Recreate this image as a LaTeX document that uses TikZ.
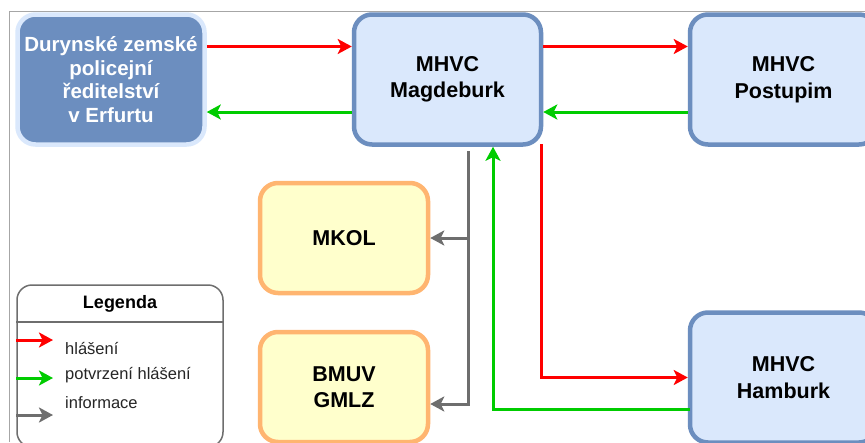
\documentclass[tikz,border=0pt]{standalone}
\usepackage{fontspec}
\setmainfont{Liberation Sans}
\usetikzlibrary{arrows.meta}

\definecolor{modra}{HTML}{6C8EBF}
\definecolor{svetlemodra}{HTML}{DAE8FC}
\definecolor{zluta}{HTML}{FFFFCC}
\definecolor{oranzova}{HTML}{FFB570}
\definecolor{cervena}{HTML}{FF0000}
\definecolor{zelena}{HTML}{00CC00}
\definecolor{seda}{HTML}{6E6E6E}

\tikzset{
  urad/.style={draw=modra, fill=svetlemodra, line width=4.5pt, rounded corners=18pt,
    minimum width=187pt, minimum height=130pt, align=center,
    font=\bfseries\fontsize{21.5}{26.5}\selectfont},
  policie/.style={urad, draw=svetlemodra, fill=modra, text=white,
    font=\bfseries\fontsize{20.5}{23.5}\selectfont},
  ministerstvo/.style={urad, draw=oranzova, fill=zluta,
    minimum width=168pt, minimum height=110pt},
  hlaseni/.style={draw=cervena, line width=3pt, -{Stealth[length=14pt,width=15pt,inset=3.5pt]}},
  potvrzeni/.style={hlaseni, draw=zelena},
  info/.style={hlaseni, draw=seda},
  legtext/.style={anchor=west, inner sep=0pt, font=\fontsize{16.5}{20}\selectfont, text=black!85}
}

\begin{document}
\begin{tikzpicture}[x=1pt, y=-1pt]
  \useasboundingbox (0,0) rectangle (865,442);
  \fill[white] (0,0) rectangle (865,442);

  % ramecek
  \draw[gray!70, line width=1pt] (9.5,442) -- (9.5,11) -- (865,11);

  % uzly
  \node[policie] (erf) at (111,79.5) {Durynské zemské\\policejní\\ředitelství\\v Erfurtu};
  \node[urad] (mag) at (447.5,79.5) {MHVC\\Magdeburk};
  \node[urad] (pos) at (783.5,79.5) {MHVC\\Postupim};
  \node[urad] (ham) at (783.5,377.5) {MHVC\\Hamburk};
  \node[ministerstvo] (mkol) at (344,238) {MKOL};
  \node[ministerstvo] (bmuv) at (344,387) {BMUV\\GMLZ};

  % spojnice
  \draw[hlaseni] ([yshift=33pt]erf.east) -- ([yshift=33pt]mag.west);
  \draw[potvrzeni] ([yshift=-32.5pt]mag.west) -- ([yshift=-32.5pt]erf.east);
  \draw[hlaseni] ([yshift=33pt]mag.east) -- ([yshift=33pt]pos.west);
  \draw[potvrzeni] ([yshift=-32.5pt]pos.west) -- ([yshift=-32.5pt]mag.east);

  \coordinate (gtop) at (468,151);
  \coordinate (gbot) at (468,404);
  \draw[info] (gtop) -- (gbot) -- (bmuv.east |- gbot);
  \draw[info] (gbot |- mkol.east) -- (mkol.east);

  \coordinate (rtop) at (541,144);
  \draw[hlaseni] (rtop) |- (ham.west);

  \coordinate (gzac) at (690,409);
  \draw[potvrzeni] (gzac) -| (mag.south -| 493,0);

  % legenda
  \node[draw=seda, line width=1.5pt, rounded corners=15pt, fill=white,
        minimum width=206pt, minimum height=162pt] (leg) at (120,366) {};
  \draw[seda, line width=1.5pt] (leg.west |- 0,322) -- (leg.east |- 0,322);
  \node[font=\bfseries\fontsize{18}{20}\selectfont] (legnadpis) at (120,304) {Legenda};

  \node[legtext] (l1) at (65,349) {hlášení};
  \node[legtext] (l2) at (65,375) {potvrzení hlášení};
  \node[legtext] (l3) at (65,403) {informace};

  \coordinate (s1) at (53,340);
  \coordinate (s2) at (53,378);
  \coordinate (s3) at (53,415);
  \draw[hlaseni] (leg.west |- s1) -- (s1);
  \draw[potvrzeni] (leg.west |- s2) -- (s2);
  \draw[info] (leg.west |- s3) -- (s3);
\end{tikzpicture}
\end{document}
